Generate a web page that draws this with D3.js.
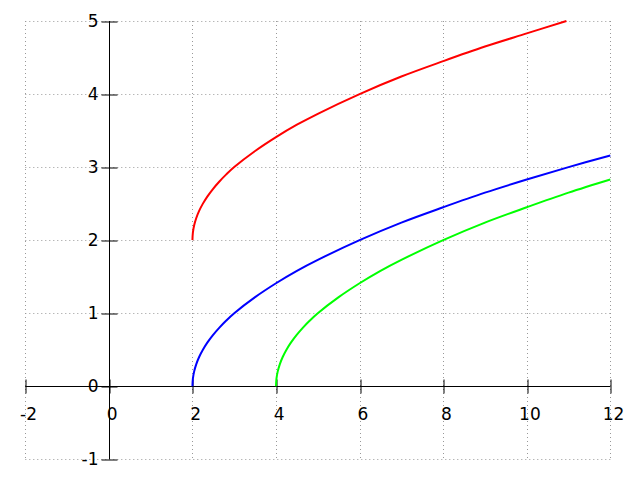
<!DOCTYPE html>
<html><head><meta charset="utf-8">
<script src="https://cdn.jsdelivr.net/npm/d3@7"></script>
<style>html,body{margin:0;padding:0;background:#fff}</style>
</head><body>
<script>
const xTicks = [-2, 0, 2, 4, 6, 8, 10, 12];
const yTicks = [-1, 0, 1, 2, 3, 4, 5];
const blueX = [2, 2.01, 2.04, 2.09, 2.16, 2.25, 2.36, 2.49, 2.64, 2.81, 3, 3.5, 4, 4.5, 5, 6, 7, 8, 9, 10, 11, 12];
const blueY = [0, 0.1, 0.2, 0.3, 0.4, 0.5, 0.6, 0.7, 0.8, 0.9, 1, 1.22, 1.41, 1.58, 1.73, 2, 2.24, 2.45, 2.65, 2.83, 3, 3.16];
const greenX = [4, 4.01, 4.04, 4.09, 4.16, 4.25, 4.36, 4.49, 4.64, 4.81, 5, 5.5, 6, 6.5, 7, 8, 9, 10, 11, 12];
const greenY = [0, 0.1, 0.2, 0.3, 0.4, 0.5, 0.6, 0.7, 0.8, 0.9, 1, 1.22, 1.41, 1.58, 1.73, 2, 2.24, 2.45, 2.65, 2.83];
const redX = [2, 2.01, 2.04, 2.09, 2.16, 2.25, 2.36, 2.49, 2.64, 2.81, 3, 3.5, 4, 4.5, 5, 6, 7, 8, 9, 10, 10.95];
const redY = [2, 2.1, 2.2, 2.3, 2.4, 2.5, 2.6, 2.7, 2.8, 2.9, 3, 3.22, 3.41, 3.58, 3.73, 4, 4.24, 4.45, 4.65, 4.83, 5];

const W = 640, H = 480;
const FONT = "'DejaVu Sans', sans-serif";
const svg = d3.select("body").append("svg").attr("width", W).attr("height", H)
  .style("font-family", FONT);

const x = d3.scaleLinear().domain([-2, 12]).range([25.3, 610.3]);
const y = d3.scaleLinear().domain([-1, 5]).range([459.3, 21]);

// grid
const grid = svg.append("g").attr("stroke", "#999").attr("stroke-width", 1).attr("stroke-dasharray", "1,3");
grid.selectAll("line.v").data(xTicks).join("line")
  .attr("x1", d => Math.round(x(d)) + 0.5).attr("x2", d => Math.round(x(d)) + 0.5)
  .attr("y1", y(5)).attr("y2", y(-1));
grid.selectAll("line.h").data(yTicks).join("line")
  .attr("y1", d => Math.round(y(d)) + 0.5).attr("y2", d => Math.round(y(d)) + 0.5)
  .attr("x1", x(-2)).attr("x2", x(12));

const fmt = d => String(d);

// x axis at y=0
const y0 = Math.round(y(0)) + 0.5;
const xAxis = d3.axisBottom(x).tickValues(xTicks).tickSize(7).tickPadding(0).tickFormat(fmt);
const gx = svg.append("g").attr("transform", `translate(0,${y0})`).call(xAxis);
gx.select(".domain").remove();
gx.selectAll(".tick line").attr("y1", -7).attr("y2", 7).attr("stroke", "#000")
  .attr("transform", d => `translate(${Math.round(x(d)) + 0.5 - x(d)},0)`);
gx.selectAll(".tick text").attr("y", 21).attr("dy", "0.71em").attr("dx", 2.7)
  .style("font-size", "17px").style("font-family", FONT).attr("fill", "#000");
svg.append("line").attr("x1", x(-2)).attr("x2", x(12)).attr("y1", y0).attr("y2", y0).attr("stroke", "#000");

// y axis at x=0
const x0 = Math.round(x(0)) + 0.5;
const yAxis = d3.axisLeft(y).tickValues(yTicks).tickSize(8).tickPadding(3).tickFormat(fmt);
const gy = svg.append("g").attr("transform", `translate(${x0},0)`).call(yAxis);
gy.select(".domain").remove();
gy.selectAll(".tick line").attr("x1", -8).attr("x2", 8).attr("stroke", "#000")
  .attr("transform", d => `translate(0,${Math.round(y(d)) + 0.5 - y(d)})`);
gy.selectAll(".tick text").attr("x", -11)
  .style("font-size", "17px").style("font-family", FONT).attr("fill", "#000");
svg.append("line").attr("x1", x0).attr("x2", x0).attr("y1", y(5)).attr("y2", y(-1)).attr("stroke", "#000");

// curves
const series = [
  {xs: redX, ys: redY, color: "#ff0000"},
  {xs: blueX, ys: blueY, color: "#0000ff"},
  {xs: greenX, ys: greenY, color: "#00ff00"}
];
const line = d3.line().x(d => x(d[0])).y(d => y(d[1])).curve(d3.curveCatmullRom.alpha(0.5));
svg.selectAll("path.curve").data(series).join("path").attr("class", "curve")
  .attr("d", s => line(s.xs.map((v, i) => [v, s.ys[i]])))
  .attr("fill", "none").attr("stroke", s => s.color).attr("stroke-width", 2);
</script>
</body></html>
